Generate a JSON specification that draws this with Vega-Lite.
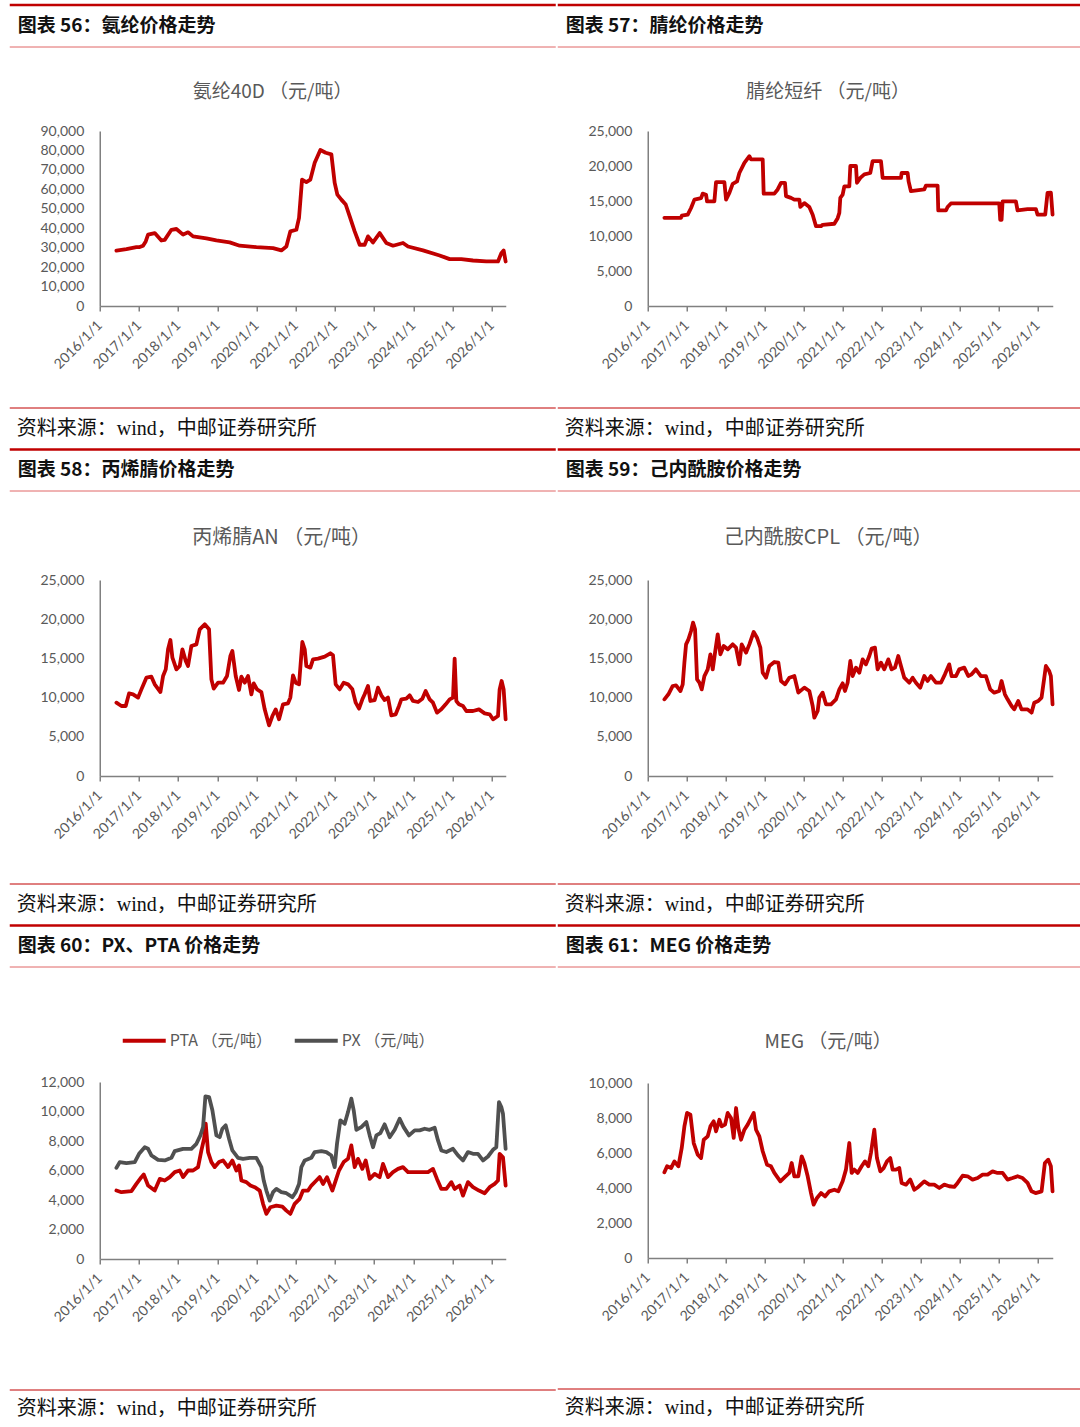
{
  "$schema": "https://vega.github.io/schema/vega-lite/v6.json",
  "background": "white",
  "padding": {"left": 7.75, "top": 3, "right": 0, "bottom": 0},
  "datasets": {
    "spandex": [
      {"t": 2016.425, "v": 28500}, {"t": 2016.68, "v": 29300}, {"t": 2016.935, "v": 30300}, {"t": 2017.02, "v": 30300},
      {"t": 2017.105, "v": 31000}, {"t": 2017.173, "v": 33200}, {"t": 2017.233, "v": 36700}, {"t": 2017.403, "v": 37500},
      {"t": 2017.573, "v": 33700}, {"t": 2017.658, "v": 34000}, {"t": 2017.828, "v": 39200}, {"t": 2017.956, "v": 39600},
      {"t": 2018.126, "v": 36700}, {"t": 2018.253, "v": 37900}, {"t": 2018.381, "v": 35800}, {"t": 2018.721, "v": 34800},
      {"t": 2018.976, "v": 33700}, {"t": 2019.316, "v": 32700}, {"t": 2019.571, "v": 31000}, {"t": 2019.997, "v": 30300},
      {"t": 2020.422, "v": 29800}, {"t": 2020.634, "v": 28600}, {"t": 2020.762, "v": 30600}, {"t": 2020.864, "v": 38400},
      {"t": 2021.017, "v": 39200}, {"t": 2021.085, "v": 45300}, {"t": 2021.162, "v": 65000}, {"t": 2021.272, "v": 63700},
      {"t": 2021.374, "v": 65000}, {"t": 2021.485, "v": 73700}, {"t": 2021.629, "v": 80200}, {"t": 2021.765, "v": 78800},
      {"t": 2021.91, "v": 78000}, {"t": 2021.995, "v": 63300}, {"t": 2022.063, "v": 57300}, {"t": 2022.165, "v": 54700},
      {"t": 2022.276, "v": 52200}, {"t": 2022.378, "v": 46100}, {"t": 2022.505, "v": 38400}, {"t": 2022.633, "v": 31500},
      {"t": 2022.76, "v": 31500}, {"t": 2022.845, "v": 35800}, {"t": 2022.973, "v": 32700}, {"t": 2023.143, "v": 37500},
      {"t": 2023.313, "v": 32400}, {"t": 2023.483, "v": 31000}, {"t": 2023.738, "v": 32400}, {"t": 2023.866, "v": 30600},
      {"t": 2024.248, "v": 28600}, {"t": 2024.673, "v": 26000}, {"t": 2024.929, "v": 24100}, {"t": 2025.226, "v": 24100},
      {"t": 2025.524, "v": 23400}, {"t": 2025.864, "v": 22900}, {"t": 2026.162, "v": 22900}, {"t": 2026.247, "v": 27200},
      {"t": 2026.306, "v": 28600}, {"t": 2026.357, "v": 22900}
    ],
    "acrylic": [
      {"t": 2016.427, "v": 12600}, {"t": 2016.855, "v": 12600}, {"t": 2016.872, "v": 12900}, {"t": 2017.026, "v": 13050},
      {"t": 2017.111, "v": 14000}, {"t": 2017.197, "v": 15200}, {"t": 2017.368, "v": 15400}, {"t": 2017.41, "v": 16050},
      {"t": 2017.496, "v": 15900}, {"t": 2017.521, "v": 14950}, {"t": 2017.709, "v": 14950}, {"t": 2017.752, "v": 17700},
      {"t": 2017.966, "v": 17700}, {"t": 2018.009, "v": 15200}, {"t": 2018.094, "v": 16150}, {"t": 2018.179, "v": 17450},
      {"t": 2018.291, "v": 17800}, {"t": 2018.35, "v": 19000}, {"t": 2018.479, "v": 20450}, {"t": 2018.607, "v": 21400},
      {"t": 2018.65, "v": 20950}, {"t": 2018.949, "v": 20950}, {"t": 2018.974, "v": 16050}, {"t": 2019.248, "v": 16050},
      {"t": 2019.333, "v": 16650}, {"t": 2019.419, "v": 17600}, {"t": 2019.521, "v": 17600}, {"t": 2019.547, "v": 15700},
      {"t": 2019.675, "v": 15450}, {"t": 2019.761, "v": 15200}, {"t": 2019.889, "v": 15200}, {"t": 2019.915, "v": 14150},
      {"t": 2020.017, "v": 14700}, {"t": 2020.145, "v": 14150}, {"t": 2020.231, "v": 13050}, {"t": 2020.316, "v": 11400},
      {"t": 2020.444, "v": 11400}, {"t": 2020.487, "v": 11600}, {"t": 2020.786, "v": 11750}, {"t": 2020.872, "v": 12550},
      {"t": 2020.915, "v": 13300}, {"t": 2020.94, "v": 15450}, {"t": 2021.0, "v": 15900}, {"t": 2021.043, "v": 17100},
      {"t": 2021.171, "v": 17100}, {"t": 2021.197, "v": 20000}, {"t": 2021.342, "v": 20000}, {"t": 2021.368, "v": 17600},
      {"t": 2021.453, "v": 18300}, {"t": 2021.556, "v": 18800}, {"t": 2021.709, "v": 19000}, {"t": 2021.769, "v": 20700},
      {"t": 2021.983, "v": 20700}, {"t": 2022.026, "v": 18300}, {"t": 2022.496, "v": 18300}, {"t": 2022.513, "v": 19000},
      {"t": 2022.667, "v": 19000}, {"t": 2022.692, "v": 17800}, {"t": 2022.752, "v": 16400}, {"t": 2023.094, "v": 16650},
      {"t": 2023.137, "v": 17200}, {"t": 2023.436, "v": 17200}, {"t": 2023.453, "v": 13650}, {"t": 2023.65, "v": 13650},
      {"t": 2023.692, "v": 14150}, {"t": 2023.778, "v": 14650}, {"t": 2025.017, "v": 14650}, {"t": 2025.043, "v": 12300},
      {"t": 2025.077, "v": 12300}, {"t": 2025.103, "v": 14950}, {"t": 2025.444, "v": 14950}, {"t": 2025.487, "v": 13650},
      {"t": 2025.744, "v": 13850}, {"t": 2025.957, "v": 13850}, {"t": 2026.0, "v": 13050}, {"t": 2026.197, "v": 13050},
      {"t": 2026.256, "v": 16150}, {"t": 2026.342, "v": 16200}, {"t": 2026.385, "v": 13050}
    ],
    "acrylonitrile": [
      {"t": 2016.425, "v": 9350}, {"t": 2016.553, "v": 8930}, {"t": 2016.663, "v": 8930}, {"t": 2016.748, "v": 10540},
      {"t": 2016.85, "v": 10420}, {"t": 2016.978, "v": 10000}, {"t": 2017.063, "v": 11050}, {"t": 2017.19, "v": 12540},
      {"t": 2017.318, "v": 12670}, {"t": 2017.403, "v": 11690}, {"t": 2017.548, "v": 10710}, {"t": 2017.616, "v": 12750},
      {"t": 2017.684, "v": 13600}, {"t": 2017.743, "v": 16160}, {"t": 2017.803, "v": 17350}, {"t": 2017.854, "v": 15090},
      {"t": 2017.956, "v": 13600}, {"t": 2018.041, "v": 14030}, {"t": 2018.109, "v": 16160}, {"t": 2018.194, "v": 14670},
      {"t": 2018.253, "v": 14030}, {"t": 2018.338, "v": 16580}, {"t": 2018.466, "v": 16790}, {"t": 2018.551, "v": 18710},
      {"t": 2018.679, "v": 19350}, {"t": 2018.789, "v": 18710}, {"t": 2018.849, "v": 12330}, {"t": 2018.908, "v": 11140},
      {"t": 2019.019, "v": 11900}, {"t": 2019.146, "v": 11900}, {"t": 2019.248, "v": 12750}, {"t": 2019.333, "v": 15310},
      {"t": 2019.384, "v": 15940}, {"t": 2019.469, "v": 12750}, {"t": 2019.554, "v": 10970}, {"t": 2019.614, "v": 12670},
      {"t": 2019.699, "v": 11900}, {"t": 2019.784, "v": 12750}, {"t": 2019.869, "v": 10420}, {"t": 2019.929, "v": 11820},
      {"t": 2020.014, "v": 11050}, {"t": 2020.124, "v": 10710}, {"t": 2020.209, "v": 8500}, {"t": 2020.32, "v": 6460},
      {"t": 2020.405, "v": 7650}, {"t": 2020.49, "v": 8500}, {"t": 2020.575, "v": 7230}, {"t": 2020.677, "v": 9140},
      {"t": 2020.804, "v": 9270}, {"t": 2020.864, "v": 10000}, {"t": 2020.932, "v": 12840}, {"t": 2021.0, "v": 11900},
      {"t": 2021.085, "v": 11690}, {"t": 2021.17, "v": 17090}, {"t": 2021.23, "v": 16160}, {"t": 2021.272, "v": 14030},
      {"t": 2021.374, "v": 13820}, {"t": 2021.442, "v": 14880}, {"t": 2021.57, "v": 14970}, {"t": 2021.74, "v": 15220},
      {"t": 2021.884, "v": 15650}, {"t": 2021.952, "v": 15390}, {"t": 2022.02, "v": 11690}, {"t": 2022.122, "v": 11050},
      {"t": 2022.224, "v": 11900}, {"t": 2022.335, "v": 11690}, {"t": 2022.446, "v": 11050}, {"t": 2022.531, "v": 9350},
      {"t": 2022.616, "v": 8590}, {"t": 2022.701, "v": 9780}, {"t": 2022.76, "v": 10420}, {"t": 2022.845, "v": 11480},
      {"t": 2022.905, "v": 9570}, {"t": 2023.015, "v": 9690}, {"t": 2023.1, "v": 11270}, {"t": 2023.185, "v": 10290},
      {"t": 2023.27, "v": 9690}, {"t": 2023.355, "v": 10000}, {"t": 2023.44, "v": 7740}, {"t": 2023.551, "v": 7870},
      {"t": 2023.636, "v": 8930}, {"t": 2023.696, "v": 9780}, {"t": 2023.823, "v": 9860}, {"t": 2023.908, "v": 10290},
      {"t": 2023.993, "v": 9570}, {"t": 2024.121, "v": 9440}, {"t": 2024.231, "v": 9860}, {"t": 2024.316, "v": 10840},
      {"t": 2024.418, "v": 9780}, {"t": 2024.503, "v": 9350}, {"t": 2024.605, "v": 8080}, {"t": 2024.716, "v": 8500},
      {"t": 2024.827, "v": 9140}, {"t": 2024.929, "v": 9780}, {"t": 2025.014, "v": 10000}, {"t": 2025.056, "v": 14970},
      {"t": 2025.099, "v": 9570}, {"t": 2025.167, "v": 9140}, {"t": 2025.269, "v": 8930}, {"t": 2025.354, "v": 8290},
      {"t": 2025.524, "v": 8290}, {"t": 2025.677, "v": 8500}, {"t": 2025.821, "v": 7990}, {"t": 2025.949, "v": 7870},
      {"t": 2026.034, "v": 7230}, {"t": 2026.162, "v": 7650}, {"t": 2026.204, "v": 11050}, {"t": 2026.255, "v": 12120},
      {"t": 2026.306, "v": 11050}, {"t": 2026.357, "v": 7230}
    ],
    "caprolactam": [
      {"t": 2016.427, "v": 9780}, {"t": 2016.53, "v": 10420}, {"t": 2016.641, "v": 11480}, {"t": 2016.726, "v": 11560},
      {"t": 2016.838, "v": 10840}, {"t": 2016.897, "v": 11690}, {"t": 2016.94, "v": 14460}, {"t": 2016.983, "v": 16790},
      {"t": 2017.043, "v": 17430}, {"t": 2017.111, "v": 18490}, {"t": 2017.162, "v": 19560}, {"t": 2017.214, "v": 18710},
      {"t": 2017.265, "v": 12330}, {"t": 2017.325, "v": 11900}, {"t": 2017.385, "v": 11050}, {"t": 2017.453, "v": 12750},
      {"t": 2017.538, "v": 13600}, {"t": 2017.607, "v": 15520}, {"t": 2017.667, "v": 13600}, {"t": 2017.726, "v": 15730},
      {"t": 2017.795, "v": 18070}, {"t": 2017.863, "v": 15520}, {"t": 2017.949, "v": 16580}, {"t": 2018.051, "v": 16160},
      {"t": 2018.179, "v": 16790}, {"t": 2018.265, "v": 16370}, {"t": 2018.35, "v": 14240}, {"t": 2018.41, "v": 16790},
      {"t": 2018.521, "v": 15730}, {"t": 2018.607, "v": 16790}, {"t": 2018.718, "v": 18370}, {"t": 2018.803, "v": 17640},
      {"t": 2018.889, "v": 16370}, {"t": 2018.949, "v": 13180}, {"t": 2019.034, "v": 12540}, {"t": 2019.12, "v": 14030},
      {"t": 2019.248, "v": 14540}, {"t": 2019.35, "v": 14460}, {"t": 2019.419, "v": 12120}, {"t": 2019.521, "v": 11690},
      {"t": 2019.632, "v": 12540}, {"t": 2019.761, "v": 12750}, {"t": 2019.863, "v": 10630}, {"t": 2020.017, "v": 11270},
      {"t": 2020.145, "v": 10840}, {"t": 2020.231, "v": 8930}, {"t": 2020.274, "v": 7440}, {"t": 2020.359, "v": 8290},
      {"t": 2020.402, "v": 10000}, {"t": 2020.487, "v": 10630}, {"t": 2020.573, "v": 9140}, {"t": 2020.701, "v": 9140},
      {"t": 2020.829, "v": 9780}, {"t": 2020.915, "v": 11050}, {"t": 2021.0, "v": 11820}, {"t": 2021.06, "v": 10840},
      {"t": 2021.128, "v": 11900}, {"t": 2021.197, "v": 14670}, {"t": 2021.256, "v": 12750}, {"t": 2021.342, "v": 13820},
      {"t": 2021.427, "v": 13180}, {"t": 2021.513, "v": 14880}, {"t": 2021.598, "v": 14240}, {"t": 2021.684, "v": 15310},
      {"t": 2021.744, "v": 16240}, {"t": 2021.829, "v": 16370}, {"t": 2021.897, "v": 13600}, {"t": 2021.983, "v": 14460},
      {"t": 2022.068, "v": 13600}, {"t": 2022.171, "v": 14880}, {"t": 2022.256, "v": 13600}, {"t": 2022.342, "v": 13820},
      {"t": 2022.427, "v": 15310}, {"t": 2022.496, "v": 14030}, {"t": 2022.581, "v": 12540}, {"t": 2022.709, "v": 11900},
      {"t": 2022.795, "v": 12540}, {"t": 2022.88, "v": 11900}, {"t": 2022.991, "v": 11270}, {"t": 2023.094, "v": 12750},
      {"t": 2023.179, "v": 12120}, {"t": 2023.265, "v": 12750}, {"t": 2023.393, "v": 11900}, {"t": 2023.521, "v": 11900},
      {"t": 2023.624, "v": 12970}, {"t": 2023.735, "v": 14240}, {"t": 2023.795, "v": 12750}, {"t": 2023.906, "v": 12750},
      {"t": 2023.991, "v": 13600}, {"t": 2024.12, "v": 13820}, {"t": 2024.222, "v": 12750}, {"t": 2024.308, "v": 12970},
      {"t": 2024.419, "v": 13600}, {"t": 2024.547, "v": 12750}, {"t": 2024.675, "v": 12750}, {"t": 2024.786, "v": 11050},
      {"t": 2024.889, "v": 10630}, {"t": 2025.017, "v": 10840}, {"t": 2025.077, "v": 12120}, {"t": 2025.162, "v": 10420},
      {"t": 2025.231, "v": 9780}, {"t": 2025.333, "v": 8930}, {"t": 2025.402, "v": 8500}, {"t": 2025.504, "v": 9570},
      {"t": 2025.59, "v": 8500}, {"t": 2025.744, "v": 8500}, {"t": 2025.846, "v": 8080}, {"t": 2025.915, "v": 9350},
      {"t": 2026.017, "v": 9570}, {"t": 2026.103, "v": 10000}, {"t": 2026.214, "v": 14030}, {"t": 2026.299, "v": 13390},
      {"t": 2026.342, "v": 12750}, {"t": 2026.385, "v": 9140}
    ],
    "polyester": [
      {"s": "PTA （元/吨）", "t": 2016.425, "v": 4640}, {"s": "PTA （元/吨）", "t": 2016.553, "v": 4530},
      {"s": "PTA （元/吨）", "t": 2016.808, "v": 4600}, {"s": "PTA （元/吨）", "t": 2016.935, "v": 5090},
      {"s": "PTA （元/吨）", "t": 2017.063, "v": 5550}, {"s": "PTA （元/吨）", "t": 2017.122, "v": 5730},
      {"s": "PTA （元/吨）", "t": 2017.233, "v": 4980}, {"s": "PTA （元/吨）", "t": 2017.403, "v": 4640},
      {"s": "PTA （元/吨）", "t": 2017.531, "v": 5430}, {"s": "PTA （元/吨）", "t": 2017.658, "v": 5320},
      {"s": "PTA （元/吨）", "t": 2017.786, "v": 5550}, {"s": "PTA （元/吨）", "t": 2017.913, "v": 5890},
      {"s": "PTA （元/吨）", "t": 2018.041, "v": 6000}, {"s": "PTA （元/吨）", "t": 2018.126, "v": 5550},
      {"s": "PTA （元/吨）", "t": 2018.253, "v": 6000}, {"s": "PTA （元/吨）", "t": 2018.381, "v": 6000},
      {"s": "PTA （元/吨）", "t": 2018.509, "v": 6230}, {"s": "PTA （元/吨）", "t": 2018.594, "v": 7360},
      {"s": "PTA （元/吨）", "t": 2018.662, "v": 8150}, {"s": "PTA （元/吨）", "t": 2018.704, "v": 9170},
      {"s": "PTA （元/吨）", "t": 2018.764, "v": 7250}, {"s": "PTA （元/吨）", "t": 2018.849, "v": 6570},
      {"s": "PTA （元/吨）", "t": 2018.934, "v": 6230}, {"s": "PTA （元/吨）", "t": 2019.044, "v": 6570},
      {"s": "PTA （元/吨）", "t": 2019.146, "v": 6680}, {"s": "PTA （元/吨）", "t": 2019.274, "v": 6230},
      {"s": "PTA （元/吨）", "t": 2019.384, "v": 6680}, {"s": "PTA （元/吨）", "t": 2019.486, "v": 6000},
      {"s": "PTA （元/吨）", "t": 2019.554, "v": 6340}, {"s": "PTA （元/吨）", "t": 2019.614, "v": 5320},
      {"s": "PTA （元/吨）", "t": 2019.741, "v": 5210}, {"s": "PTA （元/吨）", "t": 2019.844, "v": 4980},
      {"s": "PTA （元/吨）", "t": 2019.954, "v": 4870}, {"s": "PTA （元/吨）", "t": 2020.082, "v": 4640},
      {"s": "PTA （元/吨）", "t": 2020.167, "v": 3740}, {"s": "PTA （元/吨）", "t": 2020.252, "v": 3060},
      {"s": "PTA （元/吨）", "t": 2020.354, "v": 3510}, {"s": "PTA （元/吨）", "t": 2020.507, "v": 3620},
      {"s": "PTA （元/吨）", "t": 2020.66, "v": 3550}, {"s": "PTA （元/吨）", "t": 2020.762, "v": 3280},
      {"s": "PTA （元/吨）", "t": 2020.864, "v": 3060}, {"s": "PTA （元/吨）", "t": 2020.974, "v": 3740},
      {"s": "PTA （元/吨）", "t": 2021.102, "v": 4080}, {"s": "PTA （元/吨）", "t": 2021.187, "v": 4640},
      {"s": "PTA （元/吨）", "t": 2021.315, "v": 4640}, {"s": "PTA （元/吨）", "t": 2021.4, "v": 4980},
      {"s": "PTA （元/吨）", "t": 2021.527, "v": 5320}, {"s": "PTA （元/吨）", "t": 2021.612, "v": 5550},
      {"s": "PTA （元/吨）", "t": 2021.697, "v": 5090}, {"s": "PTA （元/吨）", "t": 2021.799, "v": 5550},
      {"s": "PTA （元/吨）", "t": 2021.935, "v": 4640}, {"s": "PTA （元/吨）", "t": 2022.02, "v": 5320},
      {"s": "PTA （元/吨）", "t": 2022.105, "v": 6000}, {"s": "PTA （元/吨）", "t": 2022.224, "v": 6570},
      {"s": "PTA （元/吨）", "t": 2022.335, "v": 6790}, {"s": "PTA （元/吨）", "t": 2022.42, "v": 7700},
      {"s": "PTA （元/吨）", "t": 2022.505, "v": 6230}, {"s": "PTA （元/吨）", "t": 2022.59, "v": 6790},
      {"s": "PTA （元/吨）", "t": 2022.701, "v": 6110}, {"s": "PTA （元/吨）", "t": 2022.786, "v": 6680},
      {"s": "PTA （元/吨）", "t": 2022.888, "v": 5430}, {"s": "PTA （元/吨）", "t": 2023.015, "v": 5770},
      {"s": "PTA （元/吨）", "t": 2023.143, "v": 5550}, {"s": "PTA （元/吨）", "t": 2023.228, "v": 6450},
      {"s": "PTA （元/吨）", "t": 2023.355, "v": 5550}, {"s": "PTA （元/吨）", "t": 2023.483, "v": 5890},
      {"s": "PTA （元/吨）", "t": 2023.611, "v": 6110}, {"s": "PTA （元/吨）", "t": 2023.738, "v": 6230},
      {"s": "PTA （元/吨）", "t": 2023.866, "v": 5890}, {"s": "PTA （元/吨）", "t": 2024.036, "v": 5890},
      {"s": "PTA （元/吨）", "t": 2024.206, "v": 5890}, {"s": "PTA （元/吨）", "t": 2024.376, "v": 5890},
      {"s": "PTA （元/吨）", "t": 2024.503, "v": 6110}, {"s": "PTA （元/吨）", "t": 2024.605, "v": 5430},
      {"s": "PTA （元/吨）", "t": 2024.716, "v": 4750}, {"s": "PTA （元/吨）", "t": 2024.844, "v": 4750},
      {"s": "PTA （元/吨）", "t": 2024.971, "v": 5210}, {"s": "PTA （元/吨）", "t": 2025.056, "v": 4750},
      {"s": "PTA （元/吨）", "t": 2025.184, "v": 4980}, {"s": "PTA （元/吨）", "t": 2025.269, "v": 4300},
      {"s": "PTA （元/吨）", "t": 2025.396, "v": 5210}, {"s": "PTA （元/吨）", "t": 2025.524, "v": 4870},
      {"s": "PTA （元/吨）", "t": 2025.677, "v": 4640}, {"s": "PTA （元/吨）", "t": 2025.821, "v": 4460},
      {"s": "PTA （元/吨）", "t": 2025.949, "v": 4870}, {"s": "PTA （元/吨）", "t": 2026.077, "v": 5090},
      {"s": "PTA （元/吨）", "t": 2026.162, "v": 5320}, {"s": "PTA （元/吨）", "t": 2026.204, "v": 7130},
      {"s": "PTA （元/吨）", "t": 2026.289, "v": 6900}, {"s": "PTA （元/吨）", "t": 2026.357, "v": 4980},
      {"s": "PX （元/吨）", "t": 2016.425, "v": 6180}, {"s": "PX （元/吨）", "t": 2016.51, "v": 6570},
      {"s": "PX （元/吨）", "t": 2016.68, "v": 6500}, {"s": "PX （元/吨）", "t": 2016.893, "v": 6570},
      {"s": "PX （元/吨）", "t": 2017.003, "v": 7130}, {"s": "PX （元/吨）", "t": 2017.148, "v": 7580},
      {"s": "PX （元/吨）", "t": 2017.233, "v": 7470}, {"s": "PX （元/吨）", "t": 2017.318, "v": 7020},
      {"s": "PX （元/吨）", "t": 2017.488, "v": 6720}, {"s": "PX （元/吨）", "t": 2017.658, "v": 6680},
      {"s": "PX （元/吨）", "t": 2017.828, "v": 6860}, {"s": "PX （元/吨）", "t": 2017.913, "v": 7310},
      {"s": "PX （元/吨）", "t": 2018.126, "v": 7470}, {"s": "PX （元/吨）", "t": 2018.338, "v": 7470},
      {"s": "PX （元/吨）", "t": 2018.466, "v": 7810}, {"s": "PX （元/吨）", "t": 2018.568, "v": 8380},
      {"s": "PX （元/吨）", "t": 2018.636, "v": 8940}, {"s": "PX （元/吨）", "t": 2018.696, "v": 11030},
      {"s": "PX （元/吨）", "t": 2018.789, "v": 10980}, {"s": "PX （元/吨）", "t": 2018.874, "v": 10080},
      {"s": "PX （元/吨）", "t": 2018.976, "v": 8380}, {"s": "PX （元/吨）", "t": 2019.061, "v": 8260},
      {"s": "PX （元/吨）", "t": 2019.129, "v": 8830}, {"s": "PX （元/吨）", "t": 2019.214, "v": 9060},
      {"s": "PX （元/吨）", "t": 2019.299, "v": 8150}, {"s": "PX （元/吨）", "t": 2019.384, "v": 7360},
      {"s": "PX （元/吨）", "t": 2019.529, "v": 6860}, {"s": "PX （元/吨）", "t": 2019.656, "v": 6790},
      {"s": "PX （元/吨）", "t": 2019.827, "v": 6860}, {"s": "PX （元/吨）", "t": 2019.997, "v": 6860},
      {"s": "PX （元/吨）", "t": 2020.124, "v": 6230}, {"s": "PX （元/吨）", "t": 2020.184, "v": 5320},
      {"s": "PX （元/吨）", "t": 2020.252, "v": 4640}, {"s": "PX （元/吨）", "t": 2020.337, "v": 3960},
      {"s": "PX （元/吨）", "t": 2020.422, "v": 4530}, {"s": "PX （元/吨）", "t": 2020.507, "v": 4750},
      {"s": "PX （元/吨）", "t": 2020.634, "v": 4530}, {"s": "PX （元/吨）", "t": 2020.762, "v": 4460},
      {"s": "PX （元/吨）", "t": 2020.915, "v": 4190}, {"s": "PX （元/吨）", "t": 2021.0, "v": 4530},
      {"s": "PX （元/吨）", "t": 2021.085, "v": 5090}, {"s": "PX （元/吨）", "t": 2021.145, "v": 6230},
      {"s": "PX （元/吨）", "t": 2021.23, "v": 6680}, {"s": "PX （元/吨）", "t": 2021.4, "v": 6860},
      {"s": "PX （元/吨）", "t": 2021.485, "v": 7250}, {"s": "PX （元/吨）", "t": 2021.655, "v": 7310},
      {"s": "PX （元/吨）", "t": 2021.782, "v": 7250}, {"s": "PX （元/吨）", "t": 2021.91, "v": 7020},
      {"s": "PX （元/吨）", "t": 2021.995, "v": 6230}, {"s": "PX （元/吨）", "t": 2022.054, "v": 7810},
      {"s": "PX （元/吨）", "t": 2022.139, "v": 9400}, {"s": "PX （元/吨）", "t": 2022.25, "v": 9170},
      {"s": "PX （元/吨）", "t": 2022.335, "v": 9960}, {"s": "PX （元/吨）", "t": 2022.42, "v": 10870},
      {"s": "PX （元/吨）", "t": 2022.48, "v": 10080}, {"s": "PX （元/吨）", "t": 2022.548, "v": 8760},
      {"s": "PX （元/吨）", "t": 2022.675, "v": 8940}, {"s": "PX （元/吨）", "t": 2022.803, "v": 9280},
      {"s": "PX （元/吨）", "t": 2022.888, "v": 8380}, {"s": "PX （元/吨）", "t": 2022.973, "v": 7580},
      {"s": "PX （元/吨）", "t": 2023.058, "v": 8380}, {"s": "PX （元/吨）", "t": 2023.16, "v": 8540},
      {"s": "PX （元/吨）", "t": 2023.27, "v": 9130}, {"s": "PX （元/吨）", "t": 2023.398, "v": 8260},
      {"s": "PX （元/吨）", "t": 2023.526, "v": 8760}, {"s": "PX （元/吨）", "t": 2023.653, "v": 9510},
      {"s": "PX （元/吨）", "t": 2023.755, "v": 8940}, {"s": "PX （元/吨）", "t": 2023.891, "v": 8380},
      {"s": "PX （元/吨）", "t": 2024.036, "v": 8720}, {"s": "PX （元/吨）", "t": 2024.163, "v": 8720},
      {"s": "PX （元/吨）", "t": 2024.291, "v": 8830}, {"s": "PX （元/吨）", "t": 2024.418, "v": 8760},
      {"s": "PX （元/吨）", "t": 2024.546, "v": 8900}, {"s": "PX （元/吨）", "t": 2024.631, "v": 8040},
      {"s": "PX （元/吨）", "t": 2024.716, "v": 7360}, {"s": "PX （元/吨）", "t": 2024.844, "v": 7250},
      {"s": "PX （元/吨）", "t": 2025.014, "v": 7470}, {"s": "PX （元/吨）", "t": 2025.141, "v": 7020},
      {"s": "PX （元/吨）", "t": 2025.269, "v": 6680}, {"s": "PX （元/吨）", "t": 2025.396, "v": 7250},
      {"s": "PX （元/吨）", "t": 2025.524, "v": 7130}, {"s": "PX （元/吨）", "t": 2025.651, "v": 7130},
      {"s": "PX （元/吨）", "t": 2025.779, "v": 6680}, {"s": "PX （元/吨）", "t": 2025.906, "v": 6950},
      {"s": "PX （元/吨）", "t": 2026.034, "v": 7400}, {"s": "PX （元/吨）", "t": 2026.119, "v": 7580},
      {"s": "PX （元/吨）", "t": 2026.187, "v": 10640}, {"s": "PX （元/吨）", "t": 2026.247, "v": 10300},
      {"s": "PX （元/吨）", "t": 2026.289, "v": 9850}, {"s": "PX （元/吨）", "t": 2026.357, "v": 7470}
    ],
    "meg": [
      {"t": 2016.427, "v": 4900}, {"t": 2016.496, "v": 5240}, {"t": 2016.598, "v": 5140}, {"t": 2016.684, "v": 5520},
      {"t": 2016.786, "v": 5240}, {"t": 2016.872, "v": 6290}, {"t": 2016.94, "v": 7520}, {"t": 2017.009, "v": 8290},
      {"t": 2017.094, "v": 8190}, {"t": 2017.179, "v": 6570}, {"t": 2017.282, "v": 5900}, {"t": 2017.368, "v": 5710},
      {"t": 2017.436, "v": 6760}, {"t": 2017.538, "v": 6950}, {"t": 2017.607, "v": 7520}, {"t": 2017.692, "v": 7810},
      {"t": 2017.752, "v": 7240}, {"t": 2017.838, "v": 7900}, {"t": 2017.897, "v": 7520}, {"t": 2017.983, "v": 7620},
      {"t": 2018.051, "v": 8290}, {"t": 2018.137, "v": 8000}, {"t": 2018.205, "v": 6860}, {"t": 2018.265, "v": 8570},
      {"t": 2018.325, "v": 7430}, {"t": 2018.393, "v": 6760}, {"t": 2018.479, "v": 7330}, {"t": 2018.564, "v": 7620},
      {"t": 2018.65, "v": 8000}, {"t": 2018.718, "v": 8290}, {"t": 2018.778, "v": 7330}, {"t": 2018.863, "v": 6950},
      {"t": 2018.949, "v": 6100}, {"t": 2019.06, "v": 5330}, {"t": 2019.162, "v": 5240}, {"t": 2019.248, "v": 4860},
      {"t": 2019.402, "v": 4380}, {"t": 2019.521, "v": 4630}, {"t": 2019.632, "v": 4860}, {"t": 2019.692, "v": 5430},
      {"t": 2019.761, "v": 4670}, {"t": 2019.863, "v": 4670}, {"t": 2019.949, "v": 5810}, {"t": 2020.017, "v": 5430},
      {"t": 2020.103, "v": 4670}, {"t": 2020.188, "v": 3710}, {"t": 2020.256, "v": 3050}, {"t": 2020.342, "v": 3430},
      {"t": 2020.444, "v": 3710}, {"t": 2020.547, "v": 3520}, {"t": 2020.658, "v": 3810}, {"t": 2020.786, "v": 3900},
      {"t": 2020.889, "v": 3810}, {"t": 2021.0, "v": 4380}, {"t": 2021.085, "v": 5050}, {"t": 2021.171, "v": 6570},
      {"t": 2021.231, "v": 4860}, {"t": 2021.299, "v": 5050}, {"t": 2021.385, "v": 4860}, {"t": 2021.487, "v": 5240},
      {"t": 2021.573, "v": 5520}, {"t": 2021.658, "v": 5240}, {"t": 2021.726, "v": 6000}, {"t": 2021.812, "v": 7330},
      {"t": 2021.88, "v": 5710}, {"t": 2021.966, "v": 4950}, {"t": 2022.051, "v": 5140}, {"t": 2022.137, "v": 5520},
      {"t": 2022.222, "v": 5710}, {"t": 2022.282, "v": 5050}, {"t": 2022.368, "v": 5050}, {"t": 2022.453, "v": 5140},
      {"t": 2022.513, "v": 4290}, {"t": 2022.624, "v": 4190}, {"t": 2022.735, "v": 4480}, {"t": 2022.838, "v": 3900},
      {"t": 2022.94, "v": 4060}, {"t": 2023.094, "v": 4380}, {"t": 2023.222, "v": 4190}, {"t": 2023.35, "v": 4190},
      {"t": 2023.479, "v": 4000}, {"t": 2023.607, "v": 4190}, {"t": 2023.735, "v": 4100}, {"t": 2023.863, "v": 4060},
      {"t": 2023.949, "v": 4290}, {"t": 2024.077, "v": 4700}, {"t": 2024.205, "v": 4670}, {"t": 2024.333, "v": 4480},
      {"t": 2024.462, "v": 4570}, {"t": 2024.59, "v": 4760}, {"t": 2024.718, "v": 4760}, {"t": 2024.846, "v": 4950},
      {"t": 2024.974, "v": 4860}, {"t": 2025.103, "v": 4860}, {"t": 2025.231, "v": 4480}, {"t": 2025.359, "v": 4570},
      {"t": 2025.487, "v": 4670}, {"t": 2025.615, "v": 4570}, {"t": 2025.744, "v": 4290}, {"t": 2025.846, "v": 3810},
      {"t": 2025.949, "v": 3710}, {"t": 2026.103, "v": 3810}, {"t": 2026.188, "v": 5430}, {"t": 2026.274, "v": 5620},
      {"t": 2026.342, "v": 5240}, {"t": 2026.385, "v": 3810}
    ]
  },
  "hconcat": [
    {
      "concat": [
        {
          "concat": [
            {
              "width": 546,
              "height": 42,
              "data": {"values": [
                {"pos": "a", "role": "thick"},
                {"pos": "b", "role": "header", "label": "图表 56：氨纶价格走势"},
                {"pos": "c", "role": "light"}
              ]},
              "encoding": {"y": {"field": "pos", "type": "ordinal", "scale": {"type": "point", "domain": ["a", "b", "c"], "padding": 0}, "axis": null}},
              "layer": [
                {"transform": [{"filter": "datum.role == 'thick'"}], "mark": {"type": "rule", "color": "#c00000", "strokeWidth": 2.5}, "encoding": {}},
                {"transform": [{"filter": "datum.role == 'light'"}], "mark": {"type": "rule", "color": "#e06666", "strokeWidth": 1}, "encoding": {}},
                {"transform": [{"filter": "datum.role == 'header'"}], "mark": {"type": "text", "align": "left", "dx": 8, "font": "Noto Sans CJK SC", "fontWeight": "bold", "fontSize": 19, "color": "#111111"},
                 "encoding": {"x": {"datum": 0, "type": "quantitative", "scale": {"domain": [0, 1]}, "axis": null}, "text": {"field": "label"}}}
              ]
            },
            {
              "width": 496,
              "height": 175,
              "title": {"text": "氨纶40D （元/吨）", "offset": 22, "dx": 14, "fontSize": 19},
              "data": {"name": "spandex"},
              "mark": {"type": "line", "color": "#c00000"},
              "encoding": {
                "x": {"field": "t", "type": "quantitative", "scale": {"domain": [2016, 2026.36], "range": [90, 496], "nice": false, "zero": false},
                      "axis": {"values": [2016, 2017, 2018, 2019, 2020, 2021, 2022, 2023, 2024, 2025, 2026], "labelExpr": "datum.value + '/1/1'", "minExtent": 101}},
                "y": {"field": "v", "type": "quantitative", "scale": {"domain": [0, 90000], "nice": false},
                      "axis": {"values": [0, 10000, 20000, 30000, 40000, 50000, 60000, 70000, 80000, 90000], "labelExpr": "format(datum.value, ',')", "offset": -90}}
              }
            }
          ],
          "columns": 1,
          "spacing": 35
        },
        {
          "concat": [
            {
              "width": 546,
              "height": 83,
              "data": {"values": [
                {"pos": "a", "role": "thin"},
                {"pos": "b", "role": "source", "label": "资料来源：wind，中邮证券研究所"},
                {"pos": "c", "role": "thick"},
                {"pos": "d", "role": "header", "label": "图表 58：丙烯腈价格走势"},
                {"pos": "e", "role": "light"}
              ]},
              "encoding": {"y": {"field": "pos", "type": "ordinal", "scale": {"type": "point", "domain": ["a", "b", "c", "d", "e"], "padding": 0}, "axis": null}},
              "layer": [
                {"transform": [{"filter": "datum.role == 'thin'"}], "mark": {"type": "rule", "color": "#c00000", "strokeWidth": 1}, "encoding": {}},
                {"transform": [{"filter": "datum.role == 'thick'"}], "mark": {"type": "rule", "color": "#c00000", "strokeWidth": 2.5}, "encoding": {}},
                {"transform": [{"filter": "datum.role == 'light'"}], "mark": {"type": "rule", "color": "#e06666", "strokeWidth": 1}, "encoding": {}},
                {"transform": [{"filter": "datum.role == 'source'"}], "mark": {"type": "text", "align": "left", "dx": 7, "font": "Liberation Serif, Noto Sans CJK SC", "fontSize": 20, "color": "#111111"},
                 "encoding": {"x": {"datum": 0, "type": "quantitative", "scale": {"domain": [0, 1]}, "axis": null}, "text": {"field": "label"}}},
                {"transform": [{"filter": "datum.role == 'header'"}], "mark": {"type": "text", "align": "left", "dx": 8, "font": "Noto Sans CJK SC", "fontWeight": "bold", "fontSize": 19, "color": "#111111"},
                 "encoding": {"x": {"datum": 0, "type": "quantitative", "scale": {"domain": [0, 1]}, "axis": null}, "text": {"field": "label"}}}
              ]
            },
            {
              "width": 496,
              "height": 196,
              "title": {"text": "丙烯腈AN （元/吨）", "offset": 25, "dx": 23, "fontSize": 20},
              "data": {"name": "acrylonitrile"},
              "mark": {"type": "line", "color": "#c00000"},
              "encoding": {
                "x": {"field": "t", "type": "quantitative", "scale": {"domain": [2016, 2026.36], "range": [90, 496], "nice": false, "zero": false},
                      "axis": {"values": [2016, 2017, 2018, 2019, 2020, 2021, 2022, 2023, 2024, 2025, 2026], "labelExpr": "datum.value + '/1/1'", "minExtent": 107}},
                "y": {"field": "v", "type": "quantitative", "scale": {"domain": [0, 25000], "nice": false},
                      "axis": {"values": [0, 5000, 10000, 15000, 20000, 25000], "labelExpr": "format(datum.value, ',')", "offset": -90}}
              }
            }
          ],
          "columns": 1,
          "spacing": 36
        },
        {
          "concat": [
            {
              "width": 546,
              "height": 83,
              "data": {"values": [
                {"pos": "a", "role": "thin"},
                {"pos": "b", "role": "source", "label": "资料来源：wind，中邮证券研究所"},
                {"pos": "c", "role": "thick"},
                {"pos": "d", "role": "header", "label": "图表 60：PX、PTA 价格走势"},
                {"pos": "e", "role": "light"}
              ]},
              "encoding": {"y": {"field": "pos", "type": "ordinal", "scale": {"type": "point", "domain": ["a", "b", "c", "d", "e"], "padding": 0}, "axis": null}},
              "layer": [
                {"transform": [{"filter": "datum.role == 'thin'"}], "mark": {"type": "rule", "color": "#c00000", "strokeWidth": 1}, "encoding": {}},
                {"transform": [{"filter": "datum.role == 'thick'"}], "mark": {"type": "rule", "color": "#c00000", "strokeWidth": 2.5}, "encoding": {}},
                {"transform": [{"filter": "datum.role == 'light'"}], "mark": {"type": "rule", "color": "#e06666", "strokeWidth": 1}, "encoding": {}},
                {"transform": [{"filter": "datum.role == 'source'"}], "mark": {"type": "text", "align": "left", "dx": 7, "font": "Liberation Serif, Noto Sans CJK SC", "fontSize": 20, "color": "#111111"},
                 "encoding": {"x": {"datum": 0, "type": "quantitative", "scale": {"domain": [0, 1]}, "axis": null}, "text": {"field": "label"}}},
                {"transform": [{"filter": "datum.role == 'header'"}], "mark": {"type": "text", "align": "left", "dx": 8, "font": "Noto Sans CJK SC", "fontWeight": "bold", "fontSize": 19, "color": "#111111"},
                 "encoding": {"x": {"datum": 0, "type": "quantitative", "scale": {"domain": [0, 1]}, "axis": null}, "text": {"field": "label"}}}
              ]
            },
            {
              "width": 496,
              "height": 177,
              "data": {"name": "polyester"},
              "mark": {"type": "line"},
              "encoding": {
                "x": {"field": "t", "type": "quantitative", "scale": {"domain": [2016, 2026.36], "range": [90, 496], "nice": false, "zero": false},
                      "axis": {"values": [2016, 2017, 2018, 2019, 2020, 2021, 2022, 2023, 2024, 2025, 2026], "labelExpr": "datum.value + '/1/1'", "minExtent": 130}},
                "y": {"field": "v", "type": "quantitative", "scale": {"domain": [0, 12000], "nice": false},
                      "axis": {"values": [0, 2000, 4000, 6000, 8000, 10000, 12000], "labelExpr": "format(datum.value, ',')", "offset": -90}},
                "color": {"field": "s", "type": "nominal",
                          "scale": {"domain": ["PTA （元/吨）", "PX （元/吨）"], "range": ["#c00000", "#505050"]},
                          "legend": {"orient": "none", "legendX": 111, "legendY": -65, "direction": "horizontal", "title": null,
                                     "symbolType": "stroke", "symbolSize": 1849, "symbolStrokeWidth": 4, "padding": 0,
                                     "labelFont": "Noto Sans CJK SC", "labelFontSize": 16, "labelColor": "#595959", "labelOffset": 2, "columnPadding": 20}}
              }
            }
          ],
          "columns": 1,
          "spacing": 49,
          "resolve": {"scale": {"color": "independent"}, "legend": {"color": "independent"}}
        },
        {
          "width": 546,
          "height": 38,
          "data": {"values": [
            {"pos": "a", "role": "thin"},
            {"pos": "b", "role": "source", "label": "资料来源：wind，中邮证券研究所"}
          ]},
          "encoding": {"y": {"field": "pos", "type": "ordinal", "scale": {"type": "point", "domain": ["a", "b", "c"], "padding": 0}, "axis": null}},
          "layer": [
            {"transform": [{"filter": "datum.role == 'thin'"}], "mark": {"type": "rule", "color": "#c00000", "strokeWidth": 1}, "encoding": {}},
            {"transform": [{"filter": "datum.role == 'source'"}], "mark": {"type": "text", "align": "left", "dx": 7, "font": "Liberation Serif, Noto Sans CJK SC", "fontSize": 20, "color": "#111111"},
             "encoding": {"x": {"datum": 0, "type": "quantitative", "scale": {"domain": [0, 1]}, "axis": null}, "text": {"field": "label"}}}
          ]
        }
      ],
      "columns": 1,
      "spacing": 0,
      "resolve": {"scale": {"color": "independent"}, "legend": {"color": "independent"}}
    },
    {
      "concat": [
        {
          "concat": [
            {
              "width": 527,
              "height": 42,
              "data": {"values": [
                {"pos": "a", "role": "thick"},
                {"pos": "b", "role": "header", "label": "图表 57：腈纶价格走势"},
                {"pos": "c", "role": "light"}
              ]},
              "encoding": {"y": {"field": "pos", "type": "ordinal", "scale": {"type": "point", "domain": ["a", "b", "c"], "padding": 0}, "axis": null}},
              "layer": [
                {"transform": [{"filter": "datum.role == 'thick'"}], "mark": {"type": "rule", "color": "#c00000", "strokeWidth": 2.5}, "encoding": {}},
                {"transform": [{"filter": "datum.role == 'light'"}], "mark": {"type": "rule", "color": "#e06666", "strokeWidth": 1}, "encoding": {}},
                {"transform": [{"filter": "datum.role == 'header'"}], "mark": {"type": "text", "align": "left", "dx": 8, "font": "Noto Sans CJK SC", "fontWeight": "bold", "fontSize": 19, "color": "#111111"},
                 "encoding": {"x": {"datum": 0, "type": "quantitative", "scale": {"domain": [0, 1]}, "axis": null}, "text": {"field": "label"}}}
              ]
            },
            {
              "width": 495,
              "height": 175,
              "title": {"text": "腈纶短纤 （元/吨）", "offset": 22, "dx": 22, "fontSize": 19},
              "data": {"name": "acrylic"},
              "mark": {"type": "line", "color": "#c00000"},
              "encoding": {
                "x": {"field": "t", "type": "quantitative", "scale": {"domain": [2016, 2026.39], "range": [90, 495], "nice": false, "zero": false},
                      "axis": {"values": [2016, 2017, 2018, 2019, 2020, 2021, 2022, 2023, 2024, 2025, 2026], "labelExpr": "datum.value + '/1/1'", "minExtent": 101}},
                "y": {"field": "v", "type": "quantitative", "scale": {"domain": [0, 25000], "nice": false},
                      "axis": {"values": [0, 5000, 10000, 15000, 20000, 25000], "labelExpr": "format(datum.value, ',')", "offset": -90}}
              }
            }
          ],
          "columns": 1,
          "spacing": 35
        },
        {
          "concat": [
            {
              "width": 527,
              "height": 83,
              "data": {"values": [
                {"pos": "a", "role": "thin"},
                {"pos": "b", "role": "source", "label": "资料来源：wind，中邮证券研究所"},
                {"pos": "c", "role": "thick"},
                {"pos": "d", "role": "header", "label": "图表 59：己内酰胺价格走势"},
                {"pos": "e", "role": "light"}
              ]},
              "encoding": {"y": {"field": "pos", "type": "ordinal", "scale": {"type": "point", "domain": ["a", "b", "c", "d", "e"], "padding": 0}, "axis": null}},
              "layer": [
                {"transform": [{"filter": "datum.role == 'thin'"}], "mark": {"type": "rule", "color": "#c00000", "strokeWidth": 1}, "encoding": {}},
                {"transform": [{"filter": "datum.role == 'thick'"}], "mark": {"type": "rule", "color": "#c00000", "strokeWidth": 2.5}, "encoding": {}},
                {"transform": [{"filter": "datum.role == 'light'"}], "mark": {"type": "rule", "color": "#e06666", "strokeWidth": 1}, "encoding": {}},
                {"transform": [{"filter": "datum.role == 'source'"}], "mark": {"type": "text", "align": "left", "dx": 7, "font": "Liberation Serif, Noto Sans CJK SC", "fontSize": 20, "color": "#111111"},
                 "encoding": {"x": {"datum": 0, "type": "quantitative", "scale": {"domain": [0, 1]}, "axis": null}, "text": {"field": "label"}}},
                {"transform": [{"filter": "datum.role == 'header'"}], "mark": {"type": "text", "align": "left", "dx": 8, "font": "Noto Sans CJK SC", "fontWeight": "bold", "fontSize": 19, "color": "#111111"},
                 "encoding": {"x": {"datum": 0, "type": "quantitative", "scale": {"domain": [0, 1]}, "axis": null}, "text": {"field": "label"}}}
              ]
            },
            {
              "width": 495,
              "height": 196,
              "title": {"text": "己内酰胺CPL （元/吨）", "offset": 25, "dx": 22, "fontSize": 20},
              "data": {"name": "caprolactam"},
              "mark": {"type": "line", "color": "#c00000"},
              "encoding": {
                "x": {"field": "t", "type": "quantitative", "scale": {"domain": [2016, 2026.39], "range": [90, 495], "nice": false, "zero": false},
                      "axis": {"values": [2016, 2017, 2018, 2019, 2020, 2021, 2022, 2023, 2024, 2025, 2026], "labelExpr": "datum.value + '/1/1'", "minExtent": 107}},
                "y": {"field": "v", "type": "quantitative", "scale": {"domain": [0, 25000], "nice": false},
                      "axis": {"values": [0, 5000, 10000, 15000, 20000, 25000], "labelExpr": "format(datum.value, ',')", "offset": -90}}
              }
            }
          ],
          "columns": 1,
          "spacing": 36
        },
        {
          "concat": [
            {
              "width": 527,
              "height": 83,
              "data": {"values": [
                {"pos": "a", "role": "thin"},
                {"pos": "b", "role": "source", "label": "资料来源：wind，中邮证券研究所"},
                {"pos": "c", "role": "thick"},
                {"pos": "d", "role": "header", "label": "图表 61：MEG 价格走势"},
                {"pos": "e", "role": "light"}
              ]},
              "encoding": {"y": {"field": "pos", "type": "ordinal", "scale": {"type": "point", "domain": ["a", "b", "c", "d", "e"], "padding": 0}, "axis": null}},
              "layer": [
                {"transform": [{"filter": "datum.role == 'thin'"}], "mark": {"type": "rule", "color": "#c00000", "strokeWidth": 1}, "encoding": {}},
                {"transform": [{"filter": "datum.role == 'thick'"}], "mark": {"type": "rule", "color": "#c00000", "strokeWidth": 2.5}, "encoding": {}},
                {"transform": [{"filter": "datum.role == 'light'"}], "mark": {"type": "rule", "color": "#e06666", "strokeWidth": 1}, "encoding": {}},
                {"transform": [{"filter": "datum.role == 'source'"}], "mark": {"type": "text", "align": "left", "dx": 7, "font": "Liberation Serif, Noto Sans CJK SC", "fontSize": 20, "color": "#111111"},
                 "encoding": {"x": {"datum": 0, "type": "quantitative", "scale": {"domain": [0, 1]}, "axis": null}, "text": {"field": "label"}}},
                {"transform": [{"filter": "datum.role == 'header'"}], "mark": {"type": "text", "align": "left", "dx": 8, "font": "Noto Sans CJK SC", "fontWeight": "bold", "fontSize": 19, "color": "#111111"},
                 "encoding": {"x": {"datum": 0, "type": "quantitative", "scale": {"domain": [0, 1]}, "axis": null}, "text": {"field": "label"}}}
              ]
            },
            {
              "width": 495,
              "height": 175,
              "title": {"text": "MEG （元/吨）", "offset": 24, "dx": 22, "fontSize": 19},
              "data": {"name": "meg"},
              "mark": {"type": "line", "color": "#c00000"},
              "encoding": {
                "x": {"field": "t", "type": "quantitative", "scale": {"domain": [2016, 2026.39], "range": [90, 495], "nice": false, "zero": false},
                      "axis": {"values": [2016, 2017, 2018, 2019, 2020, 2021, 2022, 2023, 2024, 2025, 2026], "labelExpr": "datum.value + '/1/1'", "minExtent": 130}},
                "y": {"field": "v", "type": "quantitative", "scale": {"domain": [0, 10000], "nice": false},
                      "axis": {"values": [0, 2000, 4000, 6000, 8000, 10000], "labelExpr": "format(datum.value, ',')", "offset": -90}}
              }
            }
          ],
          "columns": 1,
          "spacing": 65
        },
        {
          "width": 527,
          "height": 38,
          "data": {"values": [
            {"pos": "a", "role": "thin"},
            {"pos": "b", "role": "source", "label": "资料来源：wind，中邮证券研究所"}
          ]},
          "encoding": {"y": {"field": "pos", "type": "ordinal", "scale": {"type": "point", "domain": ["a", "b", "c"], "padding": 0}, "axis": null}},
          "layer": [
            {"transform": [{"filter": "datum.role == 'thin'"}], "mark": {"type": "rule", "color": "#c00000", "strokeWidth": 1}, "encoding": {}},
            {"transform": [{"filter": "datum.role == 'source'"}], "mark": {"type": "text", "align": "left", "dx": 7, "font": "Liberation Serif, Noto Sans CJK SC", "fontSize": 20, "color": "#111111"},
             "encoding": {"x": {"datum": 0, "type": "quantitative", "scale": {"domain": [0, 1]}, "axis": null}, "text": {"field": "label"}}}
          ]
        }
      ],
      "columns": 1,
      "spacing": 0
    }
  ],
  "spacing": -5.5,
  "resolve": {"scale": {"color": "independent"}, "legend": {"color": "independent"}},
  "config": {
    "view": {"stroke": null},
    "concat": {"spacing": 0},
    "line": {"strokeWidth": 3.8, "strokeJoin": "round", "strokeCap": "round"},
    "title": {"font": "Noto Sans CJK SC", "fontSize": 18, "fontWeight": "normal", "color": "#595959", "frame": "bounds", "anchor": "middle"},
    "axis": {"grid": false, "title": null, "domainColor": "#808080", "domainWidth": 1.5, "tickColor": "#808080", "tickWidth": 1.5,
             "labelColor": "#595959", "labelFont": "Lato", "labelFontSize": 14, "labelOverlap": false},
    "axisX": {"labelAngle": -45, "labelAlign": "right", "labelBaseline": "middle", "labelPadding": 12, "tickSize": 5, "labelFlush": false, "labelFontSize": 14},
    "axisY": {"ticks": false, "tickSize": 0, "labelPadding": 16}
  }
}
